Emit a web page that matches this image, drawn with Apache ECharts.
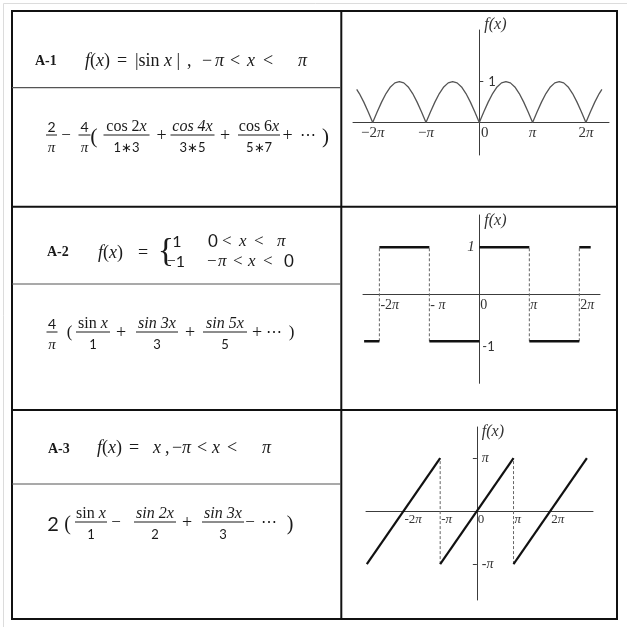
<!DOCTYPE html>
<html><head><meta charset="utf-8">
<script src="https://cdn.jsdelivr.net/npm/echarts@6/dist/echarts.min.js"></script>
<style>html,body{margin:0;padding:0;background:#fff}#c{width:627px;height:630px}</style>
</head><body><div id="c"></div>
<script>
// ---------- DATA (x in degrees, 180 = π) ----------
// A-1 : |sin x|
const absSinX = [-414,-405,-390,-375,-360,-345,-330,-315,-300,-285,-270,-255,-240,-225,-210,-195,-180,-165,-150,-135,-120,-105,-90,-75,-60,-45,-30,-15,0,15,30,45,60,75,90,105,120,135,150,165,180,195,210,225,240,255,270,285,300,315,330,345,360,375,390,405,414];
const absSinY = [0.81,0.71,0.5,0.26,0,0.26,0.5,0.71,0.87,0.97,1,0.97,0.87,0.71,0.5,0.26,0,0.26,0.5,0.71,0.87,0.97,1,0.97,0.87,0.71,0.5,0.26,0,0.26,0.5,0.71,0.87,0.97,1,0.97,0.87,0.71,0.5,0.26,0,0.26,0.5,0.71,0.87,0.97,1,0.97,0.87,0.71,0.5,0.26,0,0.26,0.5,0.71,0.81];
// A-2 : square wave
const squareFrom  = [-415,-360,-180,0,180,360];
const squareTo    = [-360,-180,0,180,360,401];
const squareLevel = [-1,1,-1,1,-1,1];
const squareJumpX = [-360,-180,180,360];
const squareJumpLow = -1, squareJumpHigh = 1;
// A-3 : sawtooth
const sawFromX = [-540,-180,180];
const sawToX   = [-180,180,540];
const sawFromY = [-180,-180,-180];
const sawToY   = [180,180,180];
const sawJumpX = [-180,180];
const sawJumpLow = -180, sawJumpHigh = 180;
// tick labels
const piTicks = [-360,-180,0,180,360];
const ticksA1 = ['−2π','−π','0','π','2π'];
const ticksA2 = ['-2π','- π','0','π','2π'];
const ticksA3 = ['-2π','-π','0','π','2π'];
const yTicksA1 = [1], yLabelsA1 = ['1'];
const yTicksA2 = [1,-1], yLabelsA2 = ['1','-1'];
const yTicksA3 = [180,-180], yLabelsA3 = ['π','-π'];
const rowIds = ['A-1','A-2','A-3'];

// ---------- STYLE ----------
const SERIF = '"Liberation Serif", "DejaVu Serif", serif';
const SANS = 'Lato, "Liberation Sans", sans-serif';
const INK = '#1a1a1a';
const AX = '#3c3c3c';

function R(size){
  return {
    u:{fontFamily:SERIF,fontSize:size,fill:INK},
    i:{fontFamily:SERIF,fontSize:size,fontStyle:'italic',fill:INK},
    d:{fontFamily:SANS,fontSize:size,fill:INK},
    b:{fontFamily:SERIF,fontSize:size,fontWeight:'bold',fill:INK}
  };
}
const els = [];
function L(x1,y1,x2,y2,stroke,lw){els.push({type:'line',silent:true,shape:{x1,y1,x2,y2},style:{stroke,lineWidth:lw}});}
function T(markup,x,y,size,align){
  els.push({type:'text',silent:true,x,y,style:{text:markup,rich:R(size),fontFamily:SERIF,fontSize:size,fill:INK,
    align:align||'left',verticalAlign:'middle',textAlign:align||'left',textVerticalAlign:'middle'}});
}
function F(num,den,cx,bar,half,ns,ds){T(num,cx,bar-8,ns,'center');T(den,cx,bar+13,ds,'center');L(cx-half,bar,cx+half,bar,INK,1);}
function toks(list,y,size){list.forEach(t=>T(t[1],t[0],y,size,'left'));}

// ---------- TABLE ----------
L(3.5,3.5,627,3.5,'#dcdcdc',1); L(3.5,3.5,3.5,627,'#dcdcdc',1);
els.push({type:'rect',silent:true,shape:{x:12,y:11,width:605,height:608},style:{fill:null,stroke:'#111',lineWidth:2}});
L(341.3,11,341.3,619,'#111',2);
L(12,206.7,617,206.7,'#111',2);
L(12,410,617,410,'#111',2);
L(12,87.7,341,87.7,'#555',1.2);
L(12,284,341,284,'#555',1.2);
L(12,484,341,484,'#555',1.2);

// ---------- ROW A-1 ----------
T('{b|'+rowIds[0]+'}',35,61,14);
toks([[85,'{i|f}{u|(}{i|x}{u|)}'],[117,'{u|=}'],[135,'{u||sin }{i|x}{u| |}'],[187,'{u|,}'],[202,'{u|−}'],[215,'{i|π}'],[230,'{u|<}'],[247,'{i|x}'],[263,'{u|<}'],[298,'{i|π}']],61,18);
F('{d|2}','{i|π}',51.5,135,5.5,14,15);
T('{u|−}',66,136,17,'center');
F('{d|4}','{i|π}',84.5,135,6,14,15);
T('{u|(}',94,137,22,'center');
F('{u|cos 2}{i|x}','{d|1∗3}',126.5,135,23,16,13);
T('{u|+}',161.5,136,18,'center');
F('{i|cos 4x}','{d|3∗5}',192.5,135,22,16,13);
T('{u|+}',225,136,18,'center');
F('{u|cos 6}{i|x}','{d|5∗7}',259,135,21,16,13);
T('{u|+}',287.5,136,18,'center');
T('{u|⋯}',307.5,136,16,'center');
T('{u|)}',325.5,137,21,'center');

// ---------- ROW A-2 ----------
T('{b|'+rowIds[1]+'}',47,252,14);
toks([[98,'{i|f}{u|(}{i|x}{u|)}'],[138,'{u|=}']],253,18);
T('{u|{}',166,252,34,'center');
T('{d|1}',177,242,16,'center');
T('{u|−}{d|1}',176,262,16,'center');
toks([[208,'{d|0}'],[222,'{u|<}'],[239,'{i|x}'],[254,'{u|<}'],[277,'{i|π}']],242,17);
toks([[207,'{u|−}'],[218,'{i|π}'],[233,'{u|<}'],[248,'{i|x}'],[263,'{u|<}'],[284,'{d|0}']],262,17);
F('{d|4}','{i|π}',52,332,5.5,14,15);
T('{u|(}',69.5,333,17,'center');
F('{u|sin }{i|x}','{d|1}',93,332,17,16,13);
T('{u|+}',121,333,18,'center');
F('{i|sin 3x}','{d|3}',157,332,21,16,13);
T('{u|+}',190,333,18,'center');
F('{i|sin 5x}','{d|5}',225,332,22,16,13);
T('{u|+}',257,333,18,'center');
T('{u|⋯}',274,333,16,'center');
T('{u|)}',291.5,333,17,'center');

// ---------- ROW A-3 ----------
T('{b|'+rowIds[2]+'}',48,449,14);
toks([[97,'{i|f}{u|(}{i|x}{u|)}'],[129,'{u|=}'],[153,'{i|x}'],[165,'{u|,}'],[172,'{u|−}'],[182,'{i|π}'],[197,'{u|<}'],[212,'{i|x}'],[227,'{u|<}'],[262,'{i|π}']],448,18);
T('{d|2}',53,525,20,'center');
T('{u|(}',67.5,525,20,'center');
F('{u|sin }{i|x}','{d|1}',91,522,16,16,13);
T('{u|−}',116,523,17,'center');
F('{i|sin 2x}','{d|2}',155,522,21,16,13);
T('{u|+}',187,523,18,'center');
F('{i|sin 3x}','{d|3}',223,522,21,16,13);
T('{u|−}',250,523,17,'center');
T('{u|⋯}',269,523,16,'center');
T('{u|)}',290,525,20,'center');

// ---------- AXES ----------
function piRich(s){return s.split(/(π)/).filter(Boolean).map(t=>t==='π'?'{p|π}':'{n|'+t+'}').join('');}
function axRich(size,extra){
  const r={n:{fontFamily:SERIF,fontSize:size,color:'#333'},p:{fontFamily:SERIF,fontStyle:'italic',fontSize:size,color:'#333'}};
  return Object.assign(r,extra||{});
}
function lab(ticks,labels){return v=>{const i=ticks.indexOf(v);return i<0?'':labels[i];};}
const axisLine={onZero:false,lineStyle:{color:AX,width:1}};
const nameStyle=()=>({fontFamily:SERIF,fontStyle:'italic',fontSize:16,color:'#333',align:'left',verticalAlign:'middle',padding:[0,0,0,5]});

const grids=[
  {left:353,top:30,width:256,height:125},
  {left:363,top:215,width:237,height:168.3},
  {left:366,top:427,width:227,height:173}
];
const xR=[[-426.5,438],[-419,434.5],[-544,570]];
const yR=[[-0.79,2.26],[-1.894,1.687],[-302,286]];
// axis offsets so that each axis (line, ticks, labels) passes through the other axis' zero
const xOff=i=>-(0-yR[i][0])/(yR[i][1]-yR[i][0])*grids[i].height;
const yOff=i=>-(0-xR[i][0])/(xR[i][1]-xR[i][0])*grids[i].width;

const option={
  animation:false,
  backgroundColor:'#fff',
  graphic:{elements:els},
  grid:grids.map(g=>Object.assign({containLabel:false,outerBoundsMode:'none'},g)),
  xAxis:[
    {gridIndex:0,type:'value',min:xR[0][0],max:xR[0][1],position:'bottom',offset:xOff(0),axisLine,axisTick:{show:false},splitLine:{show:false},
     axisLabel:{customValues:piTicks,margin:3,
       formatter:v=>{const s=lab(piTicks,ticksA1)(v);return v===0?'{z|0}':piRich(s);},
       rich:axRich(15,{z:{fontFamily:SERIF,fontSize:15,color:'#333',padding:[0,0,0,11]}})}},
    {gridIndex:1,type:'value',min:xR[1][0],max:xR[1][1],position:'bottom',offset:xOff(1),axisLine,axisTick:{show:false},splitLine:{show:false},
     axisLabel:{customValues:piTicks,margin:4,align:'left',padding:[0,0,0,1],
       formatter:v=>piRich(lab(piTicks,ticksA2)(v)),rich:axRich(14)}},
    {gridIndex:2,type:'value',min:xR[2][0],max:xR[2][1],position:'bottom',offset:xOff(2),axisLine,axisTick:{show:false},splitLine:{show:false},
     axisLabel:{customValues:piTicks,margin:2,align:'left',padding:[0,0,0,1],
       formatter:v=>piRich(lab(piTicks,ticksA3)(v)),rich:axRich(13)}}
  ],
  yAxis:[
    {gridIndex:0,type:'value',min:yR[0][0],max:yR[0][1],position:'left',offset:yOff(0),axisLine,splitLine:{show:false},
     axisTick:{customValues:yTicksA1,inside:true,length:4,lineStyle:{color:AX}},
     axisLabel:{customValues:yTicksA1,inside:true,margin:9,formatter:lab(yTicksA1,yLabelsA1),fontFamily:SANS,fontSize:13,color:'#333'},
     name:'f(x)',nameLocation:'end',nameGap:5,nameTextStyle:nameStyle()},
    {gridIndex:1,type:'value',min:yR[1][0],max:yR[1][1],position:'left',offset:yOff(1),axisLine,splitLine:{show:false},axisTick:{show:false},
     axisLabel:{customValues:yTicksA2,align:'left',margin:12,
       formatter:v=>v===1?'{a|'+yLabelsA2[0]+'}':'{b|'+yLabelsA2[1]+'}',
       rich:{a:{fontFamily:SERIF,fontStyle:'italic',fontSize:15,color:'#333'},
             b:{fontFamily:SANS,fontSize:13,color:'#333',padding:[12,0,0,15]}}},
     name:'f(x)',nameLocation:'end',nameGap:-6,nameTextStyle:nameStyle()},
    {gridIndex:2,type:'value',min:yR[2][0],max:yR[2][1],position:'left',offset:yOff(2),axisLine,splitLine:{show:false},
     axisTick:{customValues:yTicksA3,length:4,lineStyle:{color:AX}},
     axisLabel:{customValues:yTicksA3,inside:true,margin:5,
       formatter:v=>piRich(lab(yTicksA3,yLabelsA3)(v)),rich:axRich(14)},
     name:'f(x)',nameLocation:'end',nameGap:-5,nameTextStyle:nameStyle()}
  ],
  series:[
    {type:'line',xAxisIndex:0,yAxisIndex:0,data:absSinX.map((x,i)=>[x,absSinY[i]]),symbol:'none',silent:true,
     lineStyle:{color:'#555',width:1.3}},
    ...squareJumpX.map(x=>({type:'line',xAxisIndex:1,yAxisIndex:1,data:[[x,squareJumpLow],[x,squareJumpHigh]],symbol:'none',silent:true,
      lineStyle:{color:'#666',width:1,type:[3,2]}})),
    ...squareFrom.map((x0,i)=>({type:'line',xAxisIndex:1,yAxisIndex:1,data:[[x0,squareLevel[i]],[squareTo[i],squareLevel[i]]],symbol:'none',silent:true,
      lineStyle:{color:'#111',width:2.5}})),
    ...sawJumpX.map(x=>({type:'line',xAxisIndex:2,yAxisIndex:2,data:[[x,sawJumpLow],[x,sawJumpHigh]],symbol:'none',silent:true,
      lineStyle:{color:'#666',width:1,type:[3,2]}})),
    ...sawFromX.map((x0,i)=>({type:'line',xAxisIndex:2,yAxisIndex:2,data:[[x0,sawFromY[i]],[sawToX[i],sawToY[i]]],symbol:'none',silent:true,
      lineStyle:{color:'#111',width:2.2}}))
  ]
};
const chart=echarts.init(document.getElementById('c'),null,{renderer:'canvas'});
chart.setOption(option);
</script>
</body></html>
